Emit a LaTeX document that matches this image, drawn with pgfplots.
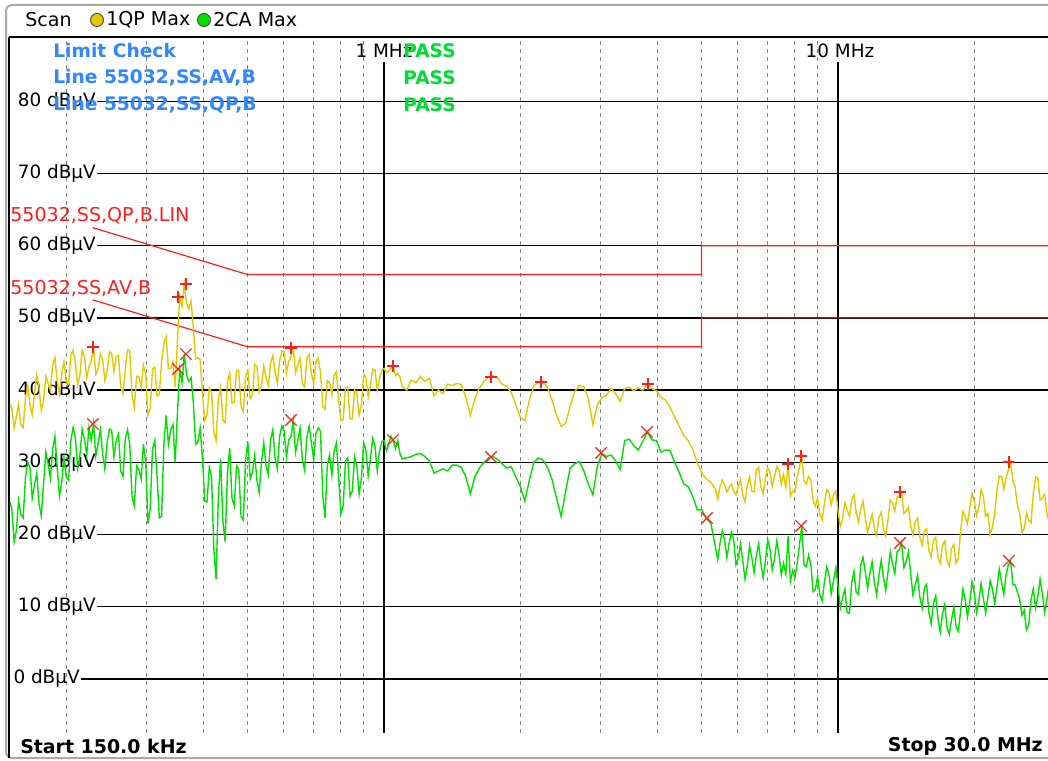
\documentclass[border=0pt]{standalone}
\usepackage{fontspec}
\setmainfont{DejaVu Sans}
\usepackage{pgfplots}
\pgfplotsset{compat=1.18}
\usepackage{pgfplotstable}

\definecolor{qpyellow}{RGB}{230,200,0}
\definecolor{cagreen}{RGB}{0,225,0}
\definecolor{limred}{RGB}{255,30,30}
\definecolor{limblue}{RGB}{50,135,255}
\definecolor{passgreen}{RGB}{0,220,50}
\definecolor{gridgray}{RGB}{135,135,135}
\definecolor{framegray}{RGB}{170,170,170}

\newcommand\lblfont{\fontsize{13.8}{15}\selectfont}
\newcommand\hdrfont{\fontsize{14.3}{16}\selectfont}
\newcommand\bluefont{\fontsize{14}{15}\selectfont\bfseries}
\newcommand\redfont{\fontsize{14.3}{15}\selectfont}
\newcommand\footfont{\fontsize{14.2}{16}\selectfont\bfseries}

% f in MHz, qp = 1QP Max (dBuV), ca = 2CA Max (dBuV)
\pgfplotstableread{
f qp ca
0.1500 38.0 24.5
0.1514 37.5 23.5
0.1532 34.7 19.0
0.1549 36.3 20.5
0.1567 38.0 24.7
0.1585 35.2 22.8
0.1604 34.8 22.3
0.1622 38.8 27.8
0.1641 40.6 30.0
0.1660 38.0 29.3
0.1679 36.6 25.0
0.1698 39.5 26.8
0.1718 42.1 28.5
0.1738 40.4 24.2
0.1758 37.2 22.6
0.1778 38.4 27.0
0.1799 41.9 31.4
0.1820 41.0 29.8
0.1841 40.0 27.8
0.1862 43.4 31.8
0.1884 44.5 33.6
0.1905 41.3 29.4
0.1928 39.5 25.3
0.1950 42.2 27.2
0.1973 43.9 30.6
0.1995 41.2 28.0
0.2019 40.8 27.5
0.2042 44.8 33.0
0.2066 45.5 34.8
0.2089 43.8 33.5
0.2114 40.7 29.2
0.2138 42.0 30.9
0.2163 45.5 34.6
0.2188 44.6 33.2
0.2214 41.7 31.0
0.2239 43.2 34.8
0.2265 44.0 33.0
0.2291 45.9 35.3
0.2318 42.2 30.9
0.2344 42.8 32.5
0.2372 45.0 34.5
0.2399 44.3 31.2
0.2427 41.3 29.0
0.2455 42.7 32.8
0.2484 45.3 34.6
0.2512 45.1 34.4
0.2541 42.6 30.7
0.2570 44.6 33.0
0.2600 44.8 33.9
0.2630 40.5 28.8
0.2661 39.5 28.0
0.2692 43.0 33.3
0.2723 45.6 34.5
0.2754 45.4 32.4
0.2786 39.3 25.2
0.2818 37.6 24.0
0.2851 41.9 29.5
0.2884 41.8 29.0
0.2918 40.4 27.7
0.2951 43.5 32.5
0.2986 42.2 30.0
0.3020 36.5 21.5
0.3055 37.5 23.6
0.3090 42.9 31.8
0.3126 43.2 33.0
0.3162 39.2 28.2
0.3199 39.4 22.3
0.3236 44.0 22.5
0.3274 46.5 32.5
0.3311 47.4 36.5
0.3350 43.0 32.5
0.3388 43.0 34.5
0.3428 43.9 35.2
0.3467 40.4 30.0
0.3508 47.0 37.0
0.3548 52.9 42.9
0.3590 51.6 41.0
0.3631 54.7 45.0
0.3673 52.0 42.1
0.3715 51.2 41.2
0.3759 52.3 41.7
0.3802 48.5 38.2
0.3846 44.3 32.5
0.3890 44.5 32.8
0.3936 44.2 34.7
0.3981 39.5 30.6
0.4028 35.8 24.6
0.4074 36.5 24.5
0.4122 40.3 29.3
0.4169 39.7 28.0
0.4218 34.2 17.9
0.4266 33.0 13.8
0.4316 38.9 25.2
0.4365 40.4 30.5
0.4416 35.8 21.8
0.4467 35.5 19.0
0.4519 41.2 28.5
0.4571 42.4 32.0
0.4624 38.2 25.0
0.4677 38.3 24.0
0.4732 42.7 29.5
0.4786 42.7 29.0
0.4842 37.7 22.5
0.4898 37.0 22.0
0.4955 42.0 30.4
0.5012 42.7 32.8
0.5071 38.8 27.7
0.5129 39.3 28.6
0.5189 43.5 31.0
0.5248 43.3 27.5
0.5309 39.7 25.8
0.5370 40.5 30.0
0.5433 43.3 32.7
0.5495 41.8 29.5
0.5559 40.6 28.3
0.5623 43.7 33.1
0.5689 44.8 34.5
0.5754 42.5 30.6
0.5821 41.0 29.1
0.5888 44.0 33.6
0.5957 45.4 35.0
0.6026 45.3 34.3
0.6096 42.4 30.7
0.6166 44.0 33.1
0.6238 44.6 33.5
0.6310 45.8 35.8
0.6384 42.4 31.4
0.6457 43.5 33.0
0.6532 44.4 34.7
0.6607 40.9 30.4
0.6684 40.4 28.9
0.6761 44.4 33.4
0.6840 44.9 35.0
0.6918 42.3 32.7
0.6999 40.9 30.3
0.7079 44.0 34.0
0.7162 44.4 34.8
0.7244 42.5 34.3
0.7329 37.7 25.3
0.7413 37.3 22.3
0.7500 41.3 29.6
0.7586 41.0 31.0
0.7674 39.3 28.2
0.7762 42.0 31.5
0.7853 42.5 32.7
0.7943 38.6 28.0
0.8036 35.8 22.9
0.8128 35.9 23.9
0.8223 40.3 30.2
0.8318 40.4 30.6
0.8415 36.0 25.3
0.8511 36.0 26.0
0.8611 40.0 30.7
0.8710 39.5 29.5
0.8812 36.5 25.6
0.8913 38.0 27.8
0.9017 42.1 32.7
0.9120 41.8 31.7
0.9227 39.0 28.1
0.9333 40.6 30.5
0.9442 42.9 33.3
0.9550 42.8 32.2
0.9661 40.0 28.8
0.9772 41.6 31.5
0.9886 42.8 32.9
1.000 43.0 33.0
1.012 42.4 31.6
1.023 42.6 32.4
1.035 43.0 33.6
1.047 43.3 33.1
1.059 42.0 31.9
1.072 42.3 33.0
1.084 41.8 31.2
1.096 40.5 30.5
1.122 40.0 30.6
1.148 41.4 30.8
1.175 41.0 31.1
1.202 41.9 31.2
1.230 41.2 30.8
1.259 41.6 30.2
1.288 39.2 28.5
1.318 40.0 28.8
1.349 39.5 29.1
1.380 40.8 28.8
1.413 40.6 29.6
1.445 40.9 29.6
1.479 40.8 29.3
1.514 39.0 28.0
1.549 36.5 25.6
1.585 38.8 28.0
1.622 40.3 29.2
1.660 41.2 30.0
1.698 41.8 30.6
1.738 42.0 30.8
1.778 41.7 30.4
1.820 40.8 29.8
1.862 40.5 29.2
1.905 39.7 29.4
1.950 38.0 28.0
1.995 36.3 26.7
2.042 35.7 24.6
2.089 38.6 27.5
2.138 40.6 30.0
2.188 41.1 30.6
2.239 41.0 30.3
2.291 40.4 29.3
2.344 38.6 27.6
2.399 36.5 25.0
2.455 35.0 22.5
2.512 35.4 26.0
2.570 37.8 29.2
2.630 39.8 29.8
2.692 40.6 30.1
2.754 40.5 28.8
2.818 38.8 27.0
2.884 35.2 25.5
2.951 38.0 29.5
3.020 39.0 31.2
3.090 39.3 30.8
3.162 40.2 31.0
3.236 39.5 30.2
3.311 38.4 29.0
3.388 40.2 33.0
3.467 40.4 33.2
3.548 39.9 32.3
3.631 40.3 31.7
3.715 40.0 32.9
3.802 40.8 34.2
3.890 40.2 33.1
3.981 39.9 33.0
4.074 39.0 31.4
4.169 38.6 31.7
4.266 37.6 31.6
4.365 36.3 30.0
4.467 35.0 28.6
4.571 33.7 27.0
4.677 33.0 26.6
4.786 31.8 25.3
4.898 29.9 23.4
5.012 28.5 23.4
5.129 27.7 22.2
5.248 27.2 21.5
5.370 26.3 18.2
5.433 24.9 16.5
5.495 26.6 18.8
5.559 27.5 20.5
5.623 26.9 19.3
5.689 25.9 16.8
5.754 26.5 18.7
5.821 27.0 20.3
5.888 26.0 19.3
5.957 25.5 15.8
6.026 26.6 16.7
6.096 27.6 18.7
6.166 25.5 16.4
6.238 24.5 13.8
6.310 26.8 15.6
6.384 28.0 18.4
6.457 26.0 16.8
6.532 25.9 14.7
6.607 28.9 17.1
6.684 29.3 18.7
6.761 26.6 16.0
6.840 25.6 14.0
6.918 27.8 16.3
6.999 29.2 19.3
7.079 28.6 18.0
7.162 26.7 15.1
7.244 28.0 16.6
7.329 29.4 19.1
7.413 28.9 17.2
7.500 27.0 14.4
7.586 28.3 16.0
7.674 26.5 14.5
7.762 29.8 19.8
7.852 25.3 13.5
7.943 26.0 15.0
8.035 25.8 14.0
8.128 28.0 16.0
8.223 29.4 18.6
8.318 30.8 21.2
8.414 27.3 15.8
8.511 27.0 15.5
8.610 28.0 17.1
8.710 27.6 15.8
8.811 24.7 12.1
8.913 23.9 12.4
9.016 25.0 14.2
9.120 22.8 11.6
9.226 22.0 10.8
9.333 24.3 13.4
9.441 26.2 15.5
9.550 25.8 14.4
9.661 24.1 11.8
9.772 25.6 13.6
9.886 26.0 15.4
10.00 23.2 12.8
10.115 21.1 9.8
10.23 22.1 11.2
10.35 24.4 12.4
10.47 23.4 9.2
10.595 22.5 9.1
10.72 24.8 13.4
10.84 25.5 14.9
10.96 23.0 12.0
11.09 21.7 11.7
11.22 23.6 15.8
11.35 24.6 16.8
11.48 22.3 14.8
11.615 20.3 12.5
11.75 21.5 14.6
11.885 22.8 16.2
12.02 20.8 13.4
12.16 19.9 11.6
12.30 22.3 14.3
12.445 23.1 16.4
12.59 20.7 14.0
12.735 19.8 12.2
12.88 22.0 14.8
13.03 24.8 17.6
13.18 24.3 16.0
13.335 23.2 14.6
13.49 25.2 17.6
13.645 25.3 17.9
13.80 25.8 18.8
13.965 22.9 15.4
14.13 23.2 16.3
14.29 23.8 17.6
14.45 21.2 14.6
14.62 19.9 11.6
14.79 21.8 13.0
14.965 22.3 14.4
15.14 19.7 11.3
15.315 18.5 9.8
15.49 20.5 12.6
15.67 20.8 13.1
15.85 17.8 9.2
16.035 16.9 7.6
16.22 19.2 10.4
16.41 19.6 11.5
16.60 16.8 8.3
16.79 16.0 6.5
16.98 18.5 9.0
17.18 19.1 10.3
17.38 16.4 7.1
17.58 15.6 6.2
17.78 18.0 8.2
17.99 18.6 9.9
18.20 16.0 7.2
18.41 16.7 6.6
18.62 20.6 9.4
18.835 23.2 12.4
19.05 22.5 11.0
19.275 21.5 8.6
19.50 23.6 10.6
19.725 25.7 13.5
19.95 24.6 12.0
20.185 22.6 9.2
20.42 23.8 10.8
20.655 26.2 13.2
20.89 25.3 11.2
21.135 22.5 9.1
21.38 22.9 11.3
21.63 20.0 13.6
21.88 21.0 12.4
22.135 23.0 10.4
22.39 26.2 12.7
22.65 28.1 15.2
22.91 28.0 13.4
23.175 26.3 11.7
23.44 27.8 14.4
23.715 28.9 15.8
23.99 30.0 16.3
24.27 27.5 13.1
24.55 26.5 13.0
24.835 24.0 12.0
25.12 22.8 11.0
25.41 20.2 8.8
25.70 20.8 9.5
26.00 23.0 6.8
26.30 22.0 7.5
26.61 21.6 11.0
26.92 25.7 12.5
27.23 28.0 9.8
27.54 27.8 11.4
27.86 24.8 13.8
28.18 25.0 11.8
28.51 25.6 9.2
28.84 23.0 11.0
29.17 21.6 13.2
29.50 23.5 11.5
}\trace

\begin{document}
\begin{tikzpicture}[x=0.75pt,y=0.75pt]
\useasboundingbox (0,0) rectangle (1048,760);
\fill[white] (0,0) rectangle (1048,760);
% outer frame and header
\draw[framegray, line width=1.5pt, rounded corners=4pt] (6,2) rectangle (1070,755);
\draw[black, line width=1.2pt] (9,723) -- (1048,723);
\draw[black, line width=1.2pt] (9,723) -- (9,2);

\begin{axis}[
  at={(7.5pt,20.25pt)}, anchor=south west,
  width=778.5pt, height=522pt, scale only axis,
  xmode=log, xmin=0.15, xmax=29, ymin=-7.5, ymax=88.9,
  hide axis, clip=true,
]
% vertical grid
\pgfplotsinvokeforeach{0.2,0.3,0.4,0.5,0.6,0.7,0.8,0.9,2,3,4,5,6,7,8,9,20}{
  \draw[gridgray, line width=0.8pt, dash pattern=on 3pt off 3pt] (axis cs:#1,-7.5) -- (axis cs:#1,88.9);
}
\pgfplotsinvokeforeach{1,10}{
  \draw[black, line width=1.1pt] (axis cs:#1,-7.5) -- (axis cs:#1,85.4);
}
% horizontal grid with level labels
\pgfplotsinvokeforeach{10,20,30,40,50,60,70,80}{
  \node[anchor=west, inner sep=0.5pt, font=\lblfont] (h#1) at (axis cs:0.1554,#1) {#1 dBµV};
  \draw[black, line width=1.1pt] (h#1.east) -- (axis cs:29,#1);
}
\node[anchor=west, inner sep=0.5pt, font=\lblfont] (h0) at (axis cs:0.1520,0) {0 dBµV};
\draw[black, line width=1.1pt] (h0.east) -- (axis cs:29,0);

% limit lines
\addplot[limred, line width=0.9pt] coordinates {(0.228,62.5) (0.5,56) (5,56) (5,60) (29.5,60)};
\addplot[limred, line width=0.9pt] coordinates {(0.228,52.5) (0.5,46) (5,46) (5,50) (29.5,50)};

% traces
\addplot[qpyellow, line width=1.05pt] table[x=f, y=qp] {\trace};
\addplot[cagreen, line width=1.05pt] table[x=f, y=ca] {\trace};

% peak markers
\addplot[only marks, mark=+, mark size=4.3pt, limred, line width=1.2pt] coordinates {
(0.2285,45.95) (0.3517,52.87) (0.3663,54.67) (0.6237,45.81) (1.046,43.32) (1.720,41.80)
(2.216,41.11) (3.814,40.83) (7.757,29.76) (8.287,30.87) (13.69,25.88) (23.79,30.03)};
\addplot[only marks, mark=x, mark size=6pt, limred, line width=0.85pt] coordinates {
(0.2285,35.29) (0.3517,42.91) (0.3663,44.98) (0.6237,35.85) (1.046,33.08) (1.720,30.73)
(3.005,31.28) (3.795,34.19) (5.143,22.28) (8.287,21.18) (13.69,18.82) (23.79,16.33)};
\end{axis}

% header legend
\node[anchor=west, inner sep=0, font=\hdrfont] at (25,740) {Scan};
\filldraw[fill=qpyellow, draw=black!70, line width=0.7pt] (97,740) circle (4.9pt);
\node[anchor=west, inner sep=0, font=\hdrfont] at (106,740) {1QP Max};
\filldraw[fill=cagreen, draw=black!70, line width=0.7pt] (204,740) circle (4.9pt);
\node[anchor=west, inner sep=0, font=\hdrfont] at (213,740) {2CA Max};

% frequency labels
\node[font=\lblfont, inner sep=0] at (384,709) {1 MHz};
\node[font=\lblfont, inner sep=0] at (840,709) {10 MHz};

% limit check texts
\node[anchor=west, inner sep=0, font=\bluefont, text=limblue] at (53,709) {Limit Check};
\node[anchor=west, inner sep=0, font=\bluefont, text=limblue] at (53,682) {Line 55032,SS,AV,B};
\node[anchor=west, inner sep=0, font=\bluefont, text=limblue] at (53,655) {Line 55032,SS,QP,B};
\node[anchor=west, inner sep=0, font=\bluefont, text=passgreen] at (403,709) {PASS};
\node[anchor=west, inner sep=0, font=\bluefont, text=passgreen] at (403,682) {PASS};
\node[anchor=west, inner sep=0, font=\bluefont, text=passgreen] at (403,655) {PASS};

% limit line labels
\node[anchor=west, inner sep=0, font=\redfont, text=limred] at (10,544) {55032,SS,QP,B.LIN};
\node[anchor=west, inner sep=0, font=\redfont, text=limred] at (10,471) {55032,SS,AV,B};

% footer
\node[anchor=west, inner sep=0, font=\footfont] at (20,14) {Start 150.0 kHz};
\node[anchor=east, inner sep=0, font=\footfont] at (1043,14) {Stop 30.0 MHz};
\end{tikzpicture}
\end{document}
